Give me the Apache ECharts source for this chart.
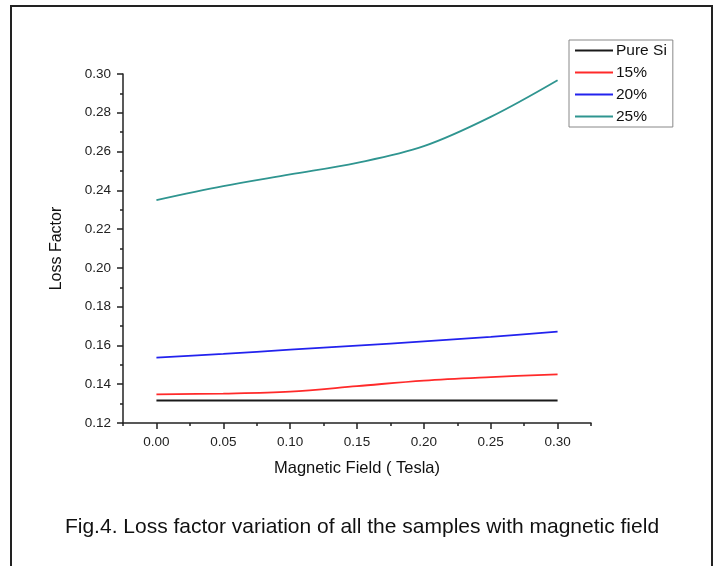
<!DOCTYPE html>
<html>
<head>
<meta charset="utf-8">
<script src="https://cdn.jsdelivr.net/npm/echarts@6/dist/echarts.min.js"></script>
<style>
html,body{margin:0;padding:0;background:#fff;}
#chart{width:715px;height:566px;}
</style>
</head>
<body>
<div id="chart"></div>
<script>
// Data
var fieldValues = [0.00, 0.05, 0.10, 0.15, 0.20, 0.25, 0.30];
var pureSi = [0.1316, 0.1316, 0.1316, 0.1316, 0.1316, 0.1316, 0.1316];
var p15 = [0.1348, 0.1352, 0.1362, 0.1390, 0.1419, 0.1437, 0.1451];
var p20 = [0.1537, 0.1556, 0.1578, 0.1599, 0.1621, 0.1644, 0.1671];
var p25 = [0.2350, 0.2422, 0.2482, 0.2542, 0.2628, 0.2779, 0.2968];
var seriesNames = ['Pure Si', '15%', '20%', '25%'];
var xTickLabels = [0.00, 0.05, 0.10, 0.15, 0.20, 0.25, 0.30];
var caption = 'Fig.4. Loss factor variation of all the samples with magnetic field';

function pairs(ys){ return fieldValues.map(function(x,i){ return [x, ys[i]]; }); }

var colors = ['#1a1a1a', '#ff2a2a', '#2222ee', '#2f9590'];
var seriesData = [pureSi, p15, p20, p25];

var chart = echarts.init(document.getElementById('chart'), null, {renderer:'canvas'});
var axisColor = '#222';
var font = 'Liberation Sans, Arial, sans-serif';

chart.setOption({
  animation: false,
  backgroundColor: '#fff',
  textStyle: {fontFamily: font},
  grid: {left: 123, right: 124, top: 74, bottom: 143, containLabel: false},
  legend: {
    orient: 'vertical',
    left: 569, top: 40,
    data: seriesNames,
    icon: 'rect',
    itemWidth: 38, itemHeight: 2,
    itemGap: 5,
    padding: [2, 6, 2, 6],
    borderColor: '#888', borderWidth: 1,
    textStyle: {fontSize: 15.5, color: '#111', fontFamily: font, lineHeight: 17, padding: [0,0,0,-2]}
  },
  xAxis: [{
    type: 'value', min: -0.025, max: 0.325, interval: 0.025,
    axisLine: {show: true, onZero: false, lineStyle: {color: axisColor, width: 1.5}},
    axisTick: {show: true, length: 3, lineStyle: {color: axisColor, width: 1.5}},
    axisLabel: {show: false},
    splitLine: {show: false},
    name: 'Magnetic Field ( Tesla)', nameLocation: 'middle', nameGap: 37,
    nameTextStyle: {fontSize: 16.5, color: '#111', fontFamily: font}
  }, {
    type: 'value', min: -0.025, max: 0.325, position: 'bottom',
    axisLine: {show: false, onZero: false},
    axisTick: {show: true, length: 6, customValues: xTickLabels, lineStyle: {color: axisColor, width: 1.5}},
    axisLabel: {show: true, customValues: xTickLabels, margin: 12, fontSize: 13.5, color: '#222', fontFamily: font,
      formatter: function(v){ return v.toFixed(2); }},
    splitLine: {show: false}
  }],
  yAxis: {
    type: 'value', min: 0.12, max: 0.30, interval: 0.02,
    axisLine: {show: true, onZero: false, lineStyle: {color: axisColor, width: 1.5}},
    axisTick: {show: true, length: 6, lineStyle: {color: axisColor, width: 1.5}},
    minorTick: {show: true, splitNumber: 2, length: 3, lineStyle: {color: axisColor, width: 1.5}},
    axisLabel: {fontSize: 13.5, color: '#222', margin: 12, fontFamily: font,
      formatter: function(v){ return v.toFixed(2); }},
    splitLine: {show: false},
    minorSplitLine: {show: false},
    name: 'Loss Factor', nameLocation: 'middle', nameGap: 58, nameRotate: 90,
    nameTextStyle: {fontSize: 16, color: '#111', fontFamily: font}
  },
  series: seriesNames.map(function(n, i){
    return {
      name: n, type: 'line', xAxisIndex: 0, data: pairs(seriesData[i]),
      smooth: 0.35, showSymbol: false, symbol: 'none',
      lineStyle: {color: colors[i], width: 1.8},
      itemStyle: {color: colors[i]}
    };
  }),
  graphic: [{
    type: 'rect', shape: {x: 11, y: 6, width: 701, height: 620},
    style: {fill: 'none', stroke: '#222', lineWidth: 2}, silent: true
  }, {
    type: 'text', x: 362, y: 527,
    style: {text: caption, fontSize: 21, fill: '#111', fontFamily: font, align: 'center', verticalAlign: 'middle'}
  }]
});
</script>
</body>
</html>
